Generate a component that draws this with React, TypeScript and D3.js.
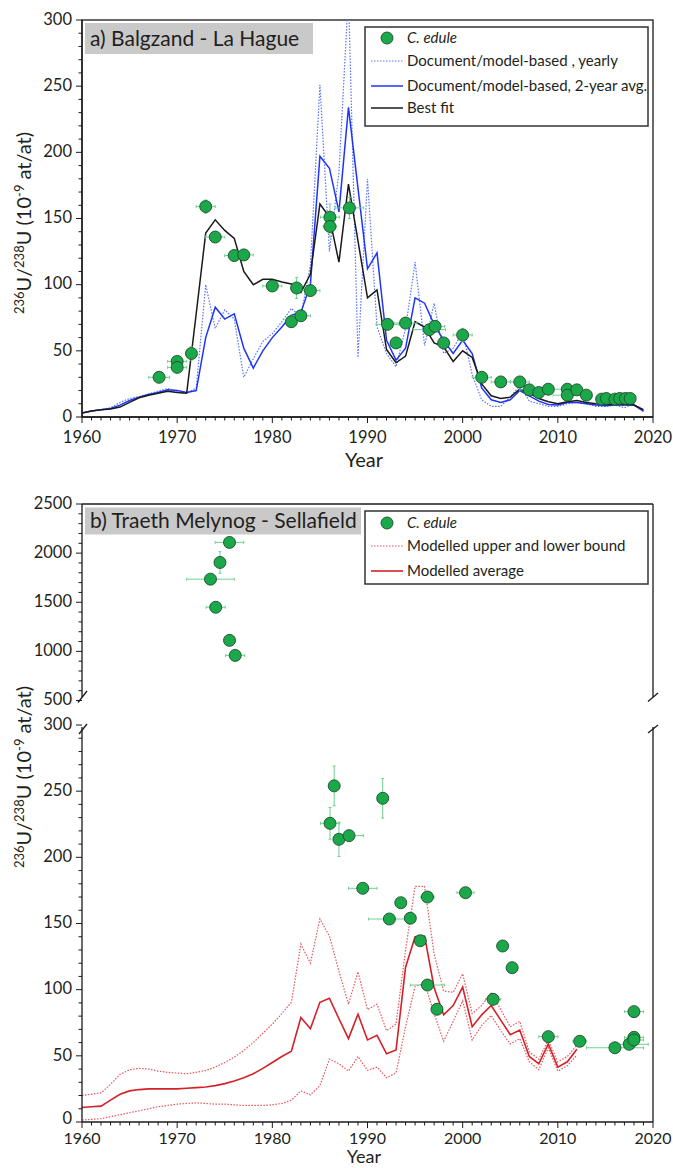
import React from 'react';
import * as d3 from 'd3';

// ---------- Panel a data ----------
const yearsA = d3.range(1960, 2020);
const bestFitA = [3, 4.5, 5.5, 6, 7.5, 11, 14.5, 16.5, 18, 19.5, 18.5, 18, 78, 139, 149, 141, 135, 110, 100, 104, 104, 102, 100.5, 94, 108, 161, 151, 117, 176, 133, 90, 96, 51, 41, 46, 72, 68, 56, 53, 42, 50, 45, 25, 16, 14, 15, 21, 18, 14, 11.5, 10, 11.5, 12.5, 11, 10, 9.5, 9.5, 9.5, 9, 5.5];
const avg2yA = [3, 4.5, 5.5, 6.5, 9, 12.5, 15, 17, 18.5, 20.5, 20, 18.5, 20, 60, 83, 74, 78, 52, 37, 50, 60, 68, 77, 79, 100, 197, 188, 155, 234, 173, 112, 124, 58, 43, 52, 90, 86, 70, 58, 48, 58, 48, 22, 13, 11, 13, 20, 16, 12, 9.5, 9, 11, 11, 10, 9, 8.5, 9, 9, 9, 4.5];
const yearlyA = [3, 4.5, 5.5, 7, 11, 14, 15.5, 17.5, 19.5, 21.5, 19, 18, 22, 100, 67, 81, 74, 30, 44, 57, 63, 72, 82, 76, 115, 251, 125, 185, 320, 45, 180, 68, 48, 38, 67, 117, 54, 86, 48, 52, 64, 32, 13, 8, 8, 15, 24, 12, 10, 8, 8, 10, 11, 10, 8, 8, 9, 7, 10, 4];

const ptsAYear = [1968.1, 1970.0, 1970.0, 1971.5, 1973.0, 1974.0, 1976.0, 1977.0, 1980.0, 1982.0, 1982.55, 1983.0, 1984.0, 1986.05, 1986.05, 1988.1, 1992.1, 1993.0, 1994.0, 1996.5, 1997.1, 1998.0, 2000.0, 2002.0, 2004.0, 2006.0, 2007.0, 2008.0, 2009.0, 2011.0, 2011.0, 2012.0, 2013.0, 2014.6, 2015.1, 2016.0, 2016.5, 2017.1, 2017.6];
const ptsAVal = [30, 42, 37.5, 48, 159, 136, 122, 122.5, 99, 72, 97.5, 76.5, 95.5, 151, 144, 158, 70, 56, 71, 66, 68.5, 56, 62, 30, 26.5, 26.5, 20.5, 18.5, 21, 21, 16.5, 20.5, 16.5, 13.5, 14, 13.5, 14, 14, 14];
const ptsAXErr = [1.1, 1, 1, 0.3, 1, 1, 1, 1, 1, 0.5, 0.3, 1, 1, 1, 0.7, 1.5, 1.2, 0.5, 1.2, 1.7, 1, 0.5, 1, 1, 1, 1, 1, 1, 0.5, 1.5, 1.5, 0.5, 0.5, 0.5, 0.5, 1, 1, 0.5, 0.5];
const ptsAYErr = [2, 3, 3, 5, 5, 4, 4, 4, 3, 4, 8, 4, 3, 10, 8, 8, 3, 3, 3, 3, 3, 3, 5, 2, 2, 2, 2, 2, 2, 2, 2, 2, 2, 1, 1, 1, 1, 1, 1];

// ---------- Panel b data ----------
const yearsB = d3.range(1960, 2013);
const avgB = [11, 11.5, 12, 16.5, 21, 23.5, 24.5, 25, 25, 25, 25, 25.5, 26, 26.5, 27.5, 29, 31, 33.5, 36.5, 40.5, 45, 49.5, 53.5, 79, 70.5, 90.5, 93.5, 78, 63, 81.5, 62, 65.5, 51.5, 54.5, 117, 140, 140.5, 101.5, 81, 88, 102, 72, 81, 88, 77, 66, 69.5, 49.5, 44, 59, 41.5, 45.5, 55];
const upperB = [20, 21, 22, 28.5, 36, 39.5, 40.5, 40, 38.5, 37.5, 37, 36.5, 37.5, 39, 41.5, 45, 49, 54, 60, 67, 74, 82, 90.5, 134.5, 120, 153.5, 140.5, 114, 89, 113.5, 85, 89, 69, 74, 130, 178, 178, 127, 99, 98, 112, 82, 88, 98, 85, 72, 76, 53, 47.5, 62, 45.5, 49.5, 58];
const lowerB = [1.5, 2, 2.5, 4, 5.5, 7, 8.5, 10, 11.5, 12.5, 13.5, 14, 14.5, 14, 13.5, 13.5, 13, 12.5, 12.5, 12.5, 13, 14, 16.5, 23.5, 20.5, 27.5, 47.5, 44, 38.5, 49.5, 39, 41.5, 33.5, 37, 72, 102.5, 105, 82, 61, 76, 91.5, 62, 73, 80.5, 69, 59, 63, 45.5, 39.5, 56, 38.5, 42.5, 50.5];

const ptsBHiYear = [1975.5, 1974.5, 1973.5, 1974.05, 1975.5, 1976.1];
const ptsBHiVal = [2109, 1905, 1735, 1449, 1112, 959];
const ptsBHiXErr = [1.5, 0.3, 2.5, 1, 0.3, 1];
const ptsBHiYErr = [40, 110, 20, 20, 20, 20];

const ptsBLoYear = [1986.06, 1986.5, 1987.0, 1988.06, 1991.6, 1989.5, 1993.5, 1992.3, 1994.5, 1996.3, 2000.3, 1995.55, 1996.3, 1997.3, 2003.2, 2004.2, 2005.2, 2009.0, 2012.3, 2016.0, 2017.5, 2018.0, 2018.0, 2018.0];
const ptsBLoVal = [225.7, 254, 213.6, 216.4, 244.6, 176.6, 165.7, 153.4, 154, 170, 173.3, 137, 103.5, 85.2, 92.7, 133, 116.6, 64.5, 61, 56.1, 58.7, 64, 62, 83.4];
const ptsBLoXErr = [1, 0.3, 0.3, 1.5, 0.3, 1.5, 0.3, 2.2, 0.5, 0.7, 0.9, 0.3, 1.8, 0.5, 0.8, 0.5, 0.5, 1, 0.7, 3, 2, 1, 1, 1];
const ptsBLoYErr = [12, 15, 13, 4, 15, 2, 3, 1, 4, 3, 3, 2, 2, 4, 4, 2, 2, 2, 2, 1, 1, 2, 2, 2];

const xTicks = [1960, 1970, 1980, 1990, 2000, 2010, 2020];
const yTicksA = [0, 50, 100, 150, 200, 250, 300];
const yTicksBHi = [500, 1000, 1500, 2000, 2500];
const yTicksBLo = [0, 50, 100, 150, 200, 250, 300];

const legendA = ['C. edule', 'Document/model-based , yearly', 'Document/model-based, 2-year avg.', 'Best fit'];
const legendB = ['C. edule', 'Modelled upper and lower bound', 'Modelled average'];

// ---------- styling ----------
const FONT = 'Lato, "Open Sans", sans-serif';
const TXT = '#231f20';
const GREEN = '#1aa84a';
const GREEN_STROKE = '#1e4d2b';
const ERR = '#6fd08f';
const BLUE = '#1f35f5';
const BLUE_DOT = '#5a74ff';
const BLACK = '#1a1a1a';
const RED = '#d42128';
const RED_DOT = '#e6545a';
const TICK_FS = 16.5;
const LEG_FS = 15;
const TITLE_FS = 21;

const XL = 82, XR = 653;
const x = d3.scaleLinear().domain([1960, 2020]).range([XL, XR]);
const yA = d3.scaleLinear().domain([0, 300]).range([417, 20]);
const yBHi = d3.scaleLinear().domain([500, 2500]).range([700.5, 504]);
const yBLo = d3.scaleLinear().domain([0, 300]).range([1122, 725]);

function linePath(xs: number[], ys: number[], yS: d3.ScaleLinear<number, number>) {
  const gen = d3.line<number>().x((_, i) => x(xs[i])).y((d) => yS(d));
  return gen(ys) || '';
}

function Points({ xs, vs, xe, ye, yS }: { xs: number[]; vs: number[]; xe: number[]; ye: number[]; yS: d3.ScaleLinear<number, number> }) {
  return (
    <g>
      {xs.map((yr, i) => {
        const cx = x(yr), cy = yS(vs[i]);
        const x1 = x(yr - xe[i]), x2 = x(yr + xe[i]);
        const y1 = yS(vs[i] - ye[i]), y2 = yS(vs[i] + ye[i]);
        return (
          <g key={'e' + i} stroke={ERR} strokeWidth={1}>
            <line x1={x1} x2={x2} y1={cy} y2={cy} />
            <line x1={cx} x2={cx} y1={y1} y2={y2} />
            <line x1={x1} x2={x1} y1={cy - 1.5} y2={cy + 1.5} />
            <line x1={x2} x2={x2} y1={cy - 1.5} y2={cy + 1.5} />
            <line x1={cx - 1.5} x2={cx + 1.5} y1={y1} y2={y1} />
            <line x1={cx - 1.5} x2={cx + 1.5} y1={y2} y2={y2} />
          </g>
        );
      })}
      {xs.map((yr, i) => (
        <circle key={'c' + i} cx={x(yr)} cy={yS(vs[i])} r={6} fill={GREEN} stroke={GREEN_STROKE} strokeWidth={0.9} />
      ))}
    </g>
  );
}

function XAxis({ y0, labelY, titleY, labelFs, titleFs }: { y0: number; labelY: number; titleY: number; labelFs: number; titleFs: number }) {
  const minors = d3.range(1960, 2021);
  return (
    <g>
      <line x1={XL} x2={XR} y1={y0} y2={y0} stroke={BLACK} strokeWidth={1.3} />
      {minors.map((m) => (
        <line key={m} x1={x(m)} x2={x(m)} y1={y0} y2={y0 + (m % 10 === 0 ? 6 : 3.5)} stroke={BLACK} strokeWidth={1} />
      ))}
      {xTicks.map((t) => (
        <text key={t} x={x(t)} y={labelY} textAnchor="middle" fontSize={labelFs} fill={TXT} fontFamily={FONT}>{t}</text>
      ))}
      <text x={364} y={titleY} textAnchor="middle" fontSize={titleFs} fill={TXT} fontFamily={FONT}>Year</text>
    </g>
  );
}

function YAxis({ yS, ticks, minorStep, top, bottom, zeroShift = 0 }: { yS: d3.ScaleLinear<number, number>; ticks: number[]; minorStep: number; top: number; bottom: number; zeroShift?: number }) {
  const [d0, d1] = yS.domain();
  const minors = d3.range(d0, d1 + minorStep / 2, minorStep);
  return (
    <g>
      <line x1={XL} x2={XL} y1={top} y2={bottom} stroke={BLACK} strokeWidth={1.3} />
      {minors.map((m) => (
        <line key={m} x1={XL - (ticks.includes(m) ? 6 : 3.5)} x2={XL} y1={yS(m)} y2={yS(m)} stroke={BLACK} strokeWidth={1} />
      ))}
      {ticks.map((t) => (
        <text key={t} x={XL - 10} y={yS(t) - 1 + (t === 0 ? zeroShift : 0)} dy="0.35em" textAnchor="end" fontSize={TICK_FS} fill={TXT} fontFamily={FONT}>{t}</text>
      ))}
    </g>
  );
}

function YLabel({ cy }: { cy: number }) {
  return (
    <text transform={`translate(31,${cy}) rotate(-90)`} textAnchor="middle" fontSize={20} fill={TXT} fontFamily={FONT}>
      <tspan fontSize={13} dy={-7}>236</tspan>
      <tspan dy={7}>U/</tspan>
      <tspan fontSize={13} dy={-7}>238</tspan>
      <tspan dy={7}>U (10</tspan>
      <tspan fontSize={13} dy={-7}>-9</tspan>
      <tspan dy={7}> at/at)</tspan>
    </text>
  );
}

export default function App() {
  const W = 673, H = 1168;
  return (
    <svg width={W} height={H} viewBox={`0 0 ${W} ${H}`} style={{ position: 'absolute', left: 0, top: 0, background: '#fff' }}>
      <defs>
        <clipPath id="clipA"><rect x={XL} y={20} width={XR - XL} height={397} /></clipPath>
        <clipPath id="clipBLo"><rect x={XL} y={725} width={XR - XL} height={397} /></clipPath>
      </defs>
      <rect x={0} y={0} width={W} height={H} fill="#fff" />

      {/* ---------------- Panel a ---------------- */}
      <rect x={XL} y={20} width={XR - XL} height={397} fill="none" stroke={BLACK} strokeWidth={1.3} />
      <rect x={85} y={23} width={228} height={31} fill="#c9c9c9" />
      <text x={90} y={46} fontSize={TITLE_FS} fill={TXT} fontFamily={FONT}>a) Balgzand - La Hague</text>
      <g clipPath="url(#clipA)" fill="none">
        <path d={linePath(yearsA, yearlyA, yA)} stroke={BLUE_DOT} strokeWidth={1.2} strokeDasharray="1.5 1.5" />
        <path d={linePath(yearsA, avg2yA, yA)} stroke={BLUE} strokeWidth={1.5} />
        <path d={linePath(yearsA, bestFitA, yA)} stroke={BLACK} strokeWidth={1.5} />
      </g>
      <Points xs={ptsAYear} vs={ptsAVal} xe={ptsAXErr} ye={ptsAYErr} yS={yA} />
      <YAxis yS={yA} ticks={yTicksA} minorStep={10} top={20} bottom={417} />
      <XAxis y0={417} labelY={443} titleY={467} labelFs={TICK_FS} titleFs={20} />
      <YLabel cy={223} />

      {/* legend a */}
      <rect x={365} y={27} width={283} height={99} fill="#fff" stroke="#333" strokeWidth={1.5} />
      <circle cx={387} cy={38} r={6} fill={GREEN} stroke={GREEN_STROKE} strokeWidth={0.9} />
      <text x={407} y={43} fontSize={LEG_FS} fontStyle="italic" fill={TXT} fontFamily={FONT}>{legendA[0]}</text>
      <line x1={371} x2={403} y1={61} y2={61} stroke={BLUE_DOT} strokeWidth={1.2} strokeDasharray="1.5 1.5" />
      <text x={407} y={66} fontSize={LEG_FS} fill={TXT} fontFamily={FONT}>{legendA[1]}</text>
      <line x1={371} x2={403} y1={86} y2={86} stroke={BLUE} strokeWidth={1.5} />
      <text x={407} y={91} fontSize={LEG_FS} fill={TXT} fontFamily={FONT}>{legendA[2]}</text>
      <line x1={371} x2={403} y1={108} y2={108} stroke={BLACK} strokeWidth={1.5} />
      <text x={407} y={113} fontSize={LEG_FS} fill={TXT} fontFamily={FONT}>{legendA[3]}</text>

      {/* ---------------- Panel b ---------------- */}
      <line x1={XL} x2={XR} y1={504} y2={504} stroke={BLACK} strokeWidth={1.3} />
      <line x1={XR} x2={XR} y1={504} y2={697} stroke={BLACK} strokeWidth={1.3} />
      <line x1={XR - 5} x2={XR + 5} y1={701.5} y2={693} stroke={BLACK} strokeWidth={1.3} />
      <line x1={XR - 5} x2={XR + 5} y1={733} y2={725} stroke={BLACK} strokeWidth={1.3} />
      <line x1={XR} x2={XR} y1={727} y2={1122} stroke={BLACK} strokeWidth={1.3} />
      <rect x={85} y={507.5} width={276} height={27} fill="#c9c9c9" />
      <text x={90} y={528} fontSize={TITLE_FS} fill={TXT} fontFamily={FONT}>b) Traeth Melynog - Sellafield</text>

      <YAxis yS={yBHi} ticks={yTicksBHi} minorStep={100} top={504} bottom={697} />
      <line x1={XL - 4} x2={XL + 5} y1={702.5} y2={691} stroke={BLACK} strokeWidth={1.3} />
      <Points xs={ptsBHiYear} vs={ptsBHiVal} xe={ptsBHiXErr} ye={ptsBHiYErr} yS={yBHi} />

      <g clipPath="url(#clipBLo)" fill="none">
        <path d={linePath(yearsB, upperB, yBLo)} stroke={RED_DOT} strokeWidth={1.2} strokeDasharray="1.5 1.5" />
        <path d={linePath(yearsB, lowerB, yBLo)} stroke={RED_DOT} strokeWidth={1.2} strokeDasharray="1.5 1.5" />
        <path d={linePath(yearsB, avgB, yBLo)} stroke={RED} strokeWidth={1.6} />
      </g>
      <Points xs={ptsBLoYear} vs={ptsBLoVal} xe={ptsBLoXErr} ye={ptsBLoYErr} yS={yBLo} />
      <YAxis yS={yBLo} ticks={yTicksBLo} minorStep={10} top={727} bottom={1122} zeroShift={-3} />
      <line x1={XL - 3} x2={XL + 5} y1={734} y2={724} stroke={BLACK} strokeWidth={1.3} />
      <XAxis y0={1122} labelY={1144} titleY={1163} labelFs={16} titleFs={18} />
      <YLabel cy={777} />

      {/* legend b */}
      <rect x={365} y={511} width={283} height={73} fill="#fff" stroke="#333" strokeWidth={1.5} />
      <circle cx={387} cy={523} r={6} fill={GREEN} stroke={GREEN_STROKE} strokeWidth={0.9} />
      <text x={407} y={528} fontSize={LEG_FS} fontStyle="italic" fill={TXT} fontFamily={FONT}>{legendB[0]}</text>
      <line x1={371} x2={403} y1={546} y2={546} stroke={RED_DOT} strokeWidth={1.2} strokeDasharray="1.5 1.5" />
      <text x={407} y={551} fontSize={LEG_FS} fill={TXT} fontFamily={FONT}>{legendB[1]}</text>
      <line x1={371} x2={403} y1={571} y2={571} stroke={RED} strokeWidth={1.6} />
      <text x={407} y={576} fontSize={LEG_FS} fill={TXT} fontFamily={FONT}>{legendB[2]}</text>
    </svg>
  );
}
